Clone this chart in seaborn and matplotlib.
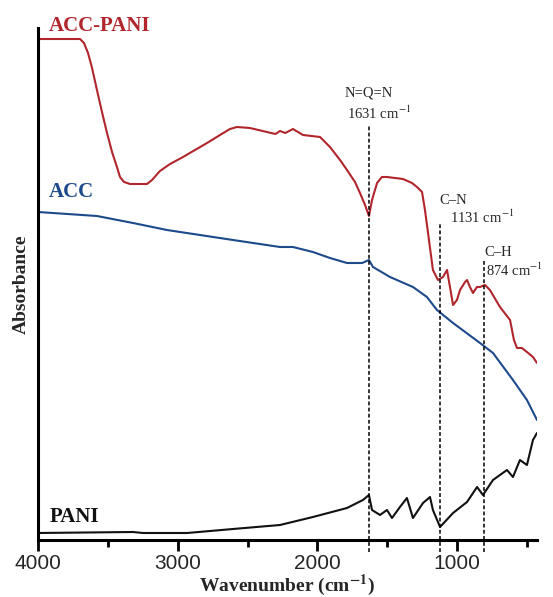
import numpy as np
import pandas as pd
import matplotlib
matplotlib.use("Agg")
import matplotlib.pyplot as plt
import seaborn as sns

# ---------------- data ----------------
acc_pani_wn = [4000, 3699, 3671, 3642, 3613, 3578, 3542, 3506, 3470, 3435, 3413, 3384,
               3341, 3220, 3184, 3127, 3055, 2962, 2876, 2790, 2697, 2626, 2576, 2483,
               2361, 2300, 2268, 2230, 2175, 2103, 1981, 1910, 1838, 1788, 1731, 1695,
               1659, 1631, 1609, 1573, 1538, 1502, 1387, 1323, 1287, 1251, 1230, 1208,
               1173, 1137, 1101, 1072, 1051, 1029, 1001, 979, 943, 929, 908, 886, 858,
               836, 800, 765, 693, 621, 593, 571, 536, 500, 457, 428]
acc_pani_abs = [501, 501, 497, 487, 472, 450, 428, 407, 388, 373, 363, 358,
                356, 356, 360, 369, 376, 383, 390, 397, 405, 411, 413, 412,
                408, 406, 409, 407, 411, 405, 403, 393, 380, 370, 358, 347,
                335, 324, 340, 357, 363, 363, 361, 357, 353, 348, 330, 307,
                270, 260, 263, 270, 253, 235, 240, 250, 258, 260, 253, 247, 253,
                253, 255, 250, 233, 220, 200, 192, 192, 188, 183, 177]

acc_wn = [4000, 3578, 3320, 3077, 2604, 2268, 2175, 2032, 1910, 1788, 1680, 1631,
          1602, 1480, 1316, 1216, 1144, 1029, 836, 743, 600, 500, 428]
acc_abs = [328, 324, 317, 310, 300, 293, 293, 288, 282, 277, 277, 280,
           273, 263, 253, 243, 230, 217, 197, 187, 160, 140, 120]

pani_wn = [4000, 3320, 3248, 2933, 2604, 2268, 2032, 1788, 1674, 1631, 1609, 1552,
           1502, 1466, 1409, 1359, 1316, 1244, 1194, 1173, 1122, 1029, 929, 857,
           815, 743, 643, 600, 550, 500, 457, 428]
pani_abs = [7, 8, 7, 7, 11, 15, 23, 32, 40, 45, 30, 25,
            30, 22, 33, 42, 22, 37, 43, 30, 13, 27, 38, 53,
            45, 60, 70, 63, 80, 75, 100, 107]

series_names = ["ACC-PANI", "ACC", "PANI"]
series_colors = ["#b0262c", "#1d4a8b", "#111111"]

peak_positions = [1631, 1122, 807]          # dashed marker positions
peak_tops = [415, 317, 280]                 # top of dashed markers
peak_groups = ["N=Q=N", "C\u2013N", "C\u2013H"]
peak_values = ["1631", "1131", "874"]

x_ticks = [4000, 3000, 2000, 1000]
x_minor = [3500, 2500, 1500, 500]

# ---------------- plotting ----------------
sns.set_theme(style="white")
plt.rcParams["mathtext.fontset"] = "stix"

fig = plt.figure(figsize=(5.53, 5.97), dpi=100)
ax = fig.add_axes([38 / 553, 57 / 597, (537 - 38) / 553, (540 - 28) / 597])

frames = [
    pd.DataFrame({"wn": acc_pani_wn, "abs": acc_pani_abs}),
    pd.DataFrame({"wn": acc_wn, "abs": acc_abs}),
    pd.DataFrame({"wn": pani_wn, "abs": pani_abs}),
]
for df, c in zip(frames, series_colors):
    sns.lineplot(data=df, x="wn", y="abs", ax=ax, color=c, lw=1.5,
                 estimator=None, sort=False)

for pos, top in zip(peak_positions, peak_tops):
    ax.plot([pos, pos], [-12, top], color="black", lw=1.1, ls=(0, (2.5, 1.5)),
            clip_on=False)

serif = ["Liberation Serif", "DejaVu Serif"]
# peak annotations
ax.text(1631, 447, peak_groups[0], ha="center", va="center", fontsize=10.5, family=serif)
ax.text(1560, 427, peak_values[0] + r" cm$^{-1}$", ha="center", va="center", fontsize=10.5, family=serif)
ax.text(1128, 340, peak_groups[1], ha="left", va="center", fontsize=10.5, family=serif)
ax.text(1050, 323, peak_values[1] + r" cm$^{-1}$", ha="left", va="center", fontsize=10.5, family=serif)
ax.text(805, 287, peak_groups[2], ha="left", va="center", fontsize=10.5, family=serif)
ax.text(790, 270, peak_values[2] + r" cm$^{-1}$", ha="left", va="center", fontsize=10.5, family=serif)

# series labels
label_y = [514, 348, 23]
for name, c, yy in zip(series_names, series_colors, label_y):
    ax.text(3920, yy, name, color=c, ha="left", va="center", fontsize=15,
            fontweight="bold", family=serif)

ax.set_xlim(4000, 428)
ax.set_ylim(0, 512)
ax.set_xticks(x_ticks)
ax.set_xticks(x_minor, minor=True)
ax.set_xticklabels([str(t) for t in x_ticks], fontsize=15,
                   family=["Liberation Sans", "DejaVu Sans"])
ax.set_yticks([])
ax.tick_params(axis="x", which="major", direction="out", length=8, width=2,
               bottom=True, pad=2, color="black")
ax.tick_params(axis="x", which="minor", direction="out", length=5, width=2,
               bottom=True, color="black")

for side in ["top", "right"]:
    ax.spines[side].set_visible(False)
for side in ["left", "bottom"]:
    ax.spines[side].set_color("black")
    ax.spines[side].set_linewidth(2.2)

ax.set_xlabel("Wavenumber (cm$^{\\mathbf{-1}}$)", fontsize=14, fontweight="bold",
              family=serif, labelpad=0)
ax.set_ylabel("Absorbance", fontsize=14, fontweight="bold", family=serif, labelpad=6)

fig.savefig("out.png", dpi=100)
